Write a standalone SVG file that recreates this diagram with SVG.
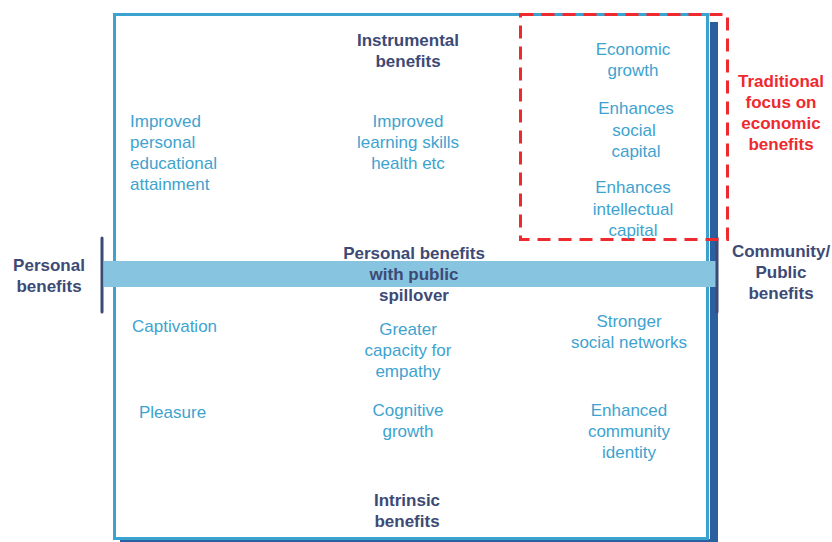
<svg xmlns="http://www.w3.org/2000/svg" width="832" height="542" viewBox="0 0 832 542">
<style>
text{font-family:"Liberation Sans",Arial,sans-serif;font-size:17px}
.l{fill:#3ea3cf}
.d{fill:#3d4a75;font-weight:bold}
.r{fill:#ee2a2e;font-weight:bold}
.m{text-anchor:middle}
</style>
<rect width="832" height="542" fill="#ffffff"/>
<g id="frame">
<rect x="710" y="22" width="8" height="520" fill="#2b5fa0"/>
<rect x="120" y="539" width="598" height="3" fill="#2b5fa0"/>
<rect x="114.5" y="14.5" width="593" height="524" fill="none" stroke="#3aa3d0" stroke-width="3"/>
</g>
<g id="connectors">
<rect x="104" y="261" width="612" height="26" fill="#86c4df"/>
<line x1="102" y1="238" x2="102" y2="312" stroke="#3d4a75" stroke-width="3" stroke-linecap="round"/>
<line x1="717" y1="238" x2="717" y2="312" stroke="#3d4a75" stroke-width="3" stroke-linecap="round"/>
</g>
<g id="focus">
<rect x="520.5" y="14.5" width="207" height="225" fill="none" stroke="#ee2a2e" stroke-width="3" stroke-dasharray="13 8"/>
<text class="r m" x="781"><tspan x="781" y="87">Traditional</tspan><tspan x="781" y="108">focus on</tspan><tspan x="781" y="129">economic</tspan><tspan x="781" y="150">benefits</tspan></text>
</g>
<g id="instrumental"><text class="d m"><tspan x="408" y="46">Instrumental</tspan><tspan x="408" y="67">benefits</tspan></text></g>
<g id="improved-personal"><text class="l"><tspan x="130" y="127">Improved</tspan><tspan x="130" y="148">personal</tspan><tspan x="130" y="169">educational</tspan><tspan x="130" y="190">attainment</tspan></text></g>
<g id="improved-learning"><text class="l m"><tspan x="408" y="127">Improved</tspan><tspan x="408" y="148">learning skills</tspan><tspan x="408" y="169">health etc</tspan></text></g>
<g id="economic"><text class="l m"><tspan x="633" y="55">Economic</tspan><tspan x="633" y="76">growth</tspan></text></g>
<g id="social-capital"><text class="l m"><tspan x="636" y="114">Enhances</tspan><tspan x="634" y="136">social</tspan><tspan x="636" y="157">capital</tspan></text></g>
<g id="intellectual"><text class="l m"><tspan x="633" y="193">Enhances</tspan><tspan x="633" y="215">intellectual</tspan><tspan x="633" y="236">capital</tspan></text></g>
<g id="spillover"><text class="d m"><tspan x="414" y="259">Personal benefits</tspan><tspan x="414" y="280">with public</tspan><tspan x="414" y="301">spillover</tspan></text></g>
<g id="personal"><text class="d m"><tspan x="49" y="271">Personal</tspan><tspan x="49" y="292">benefits</tspan></text></g>
<g id="community"><text class="d m"><tspan x="781" y="257">Community/</tspan><tspan x="781" y="278">Public</tspan><tspan x="781" y="299">benefits</tspan></text></g>
<g id="captivation"><text class="l" x="132" y="332">Captivation</text></g>
<g id="empathy"><text class="l m"><tspan x="408" y="335">Greater</tspan><tspan x="408" y="356">capacity for</tspan><tspan x="408" y="377">empathy</tspan></text></g>
<g id="networks"><text class="l m"><tspan x="629" y="327">Stronger</tspan><tspan x="629" y="348">social networks</tspan></text></g>
<g id="pleasure"><text class="l" x="139" y="418">Pleasure</text></g>
<g id="cognitive"><text class="l m"><tspan x="408" y="416">Cognitive</tspan><tspan x="408" y="437">growth</tspan></text></g>
<g id="identity"><text class="l m"><tspan x="629" y="416">Enhanced</tspan><tspan x="629" y="437">community</tspan><tspan x="629" y="458">identity</tspan></text></g>
<g id="intrinsic"><text class="d m"><tspan x="407" y="506">Intrinsic</tspan><tspan x="407" y="527">benefits</tspan></text></g>
</svg>
